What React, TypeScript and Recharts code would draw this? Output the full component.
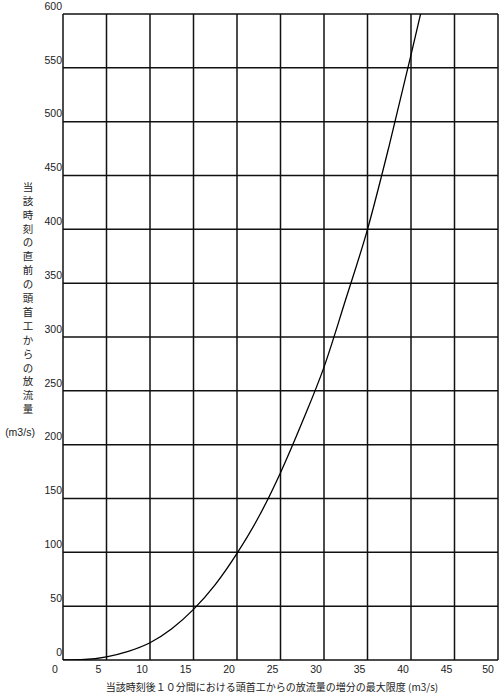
import React from "react"
import { LineChart, Line, XAxis, YAxis, CartesianGrid } from "recharts"

// increment limit (m3/s) vs. discharge just before (m3/s)
const flowIncrease = [0, 2.5, 5, 7.5, 10, 12.5, 15, 17.5, 20, 22.5, 25, 27.5, 30, 32.5, 35, 37.5, 40, 41.1]
const priorFlow = [0, 0.5, 3, 8, 16, 29, 47, 70, 99, 133, 174, 221, 272, 335, 400, 478, 562, 600]

const xTicks = [0, 5, 10, 15, 20, 25, 30, 35, 40, 45, 50]
const yTicks = [0, 50, 100, 150, 200, 250, 300, 350, 400, 450, 500, 550, 600]

const xTitle = "当該時刻後１０分間における頭首工からの放流量の増分の最大限度 (m3/s)"
const yTitleChars = "当該時刻の直前の頭首工からの放流量".split("")
const yTitleUnit = "(m3/s)"

const data = flowIncrease.map((x, i) => ({ x, y: priorFlow[i] }))

const numFont = "'Liberation Sans', Arial, sans-serif"
const jpFont = "'Noto Sans CJK JP', sans-serif"

function YTick(props: any) {
  const { x, y, payload } = props
  return (
    <text x={x - 1} y={y - 7} textAnchor="end" dominantBaseline="middle"
      fontSize={10.5} fontFamily={numFont} fill="#222">
      {payload.value}
    </text>
  )
}

function XTick(props: any) {
  const { x, y, payload } = props
  return (
    <text x={x - 8} y={y + 10} textAnchor="middle" dominantBaseline="middle"
      fontSize={10.5} fontFamily={numFont} fill="#222">
      {payload.value}
    </text>
  )
}

function YTitle() {
  return (
    <g>
      {yTitleChars.map((c, i) => (
        <text key={i} x={28} y={188 + i * 13.9} textAnchor="middle" dominantBaseline="middle"
          fontSize={10.5} fontFamily={jpFont} fill="#222">
          {c}
        </text>
      ))}
      <text x={20} y={433} textAnchor="middle" dominantBaseline="middle"
        fontSize={10.5} fontFamily={numFont} fill="#222">
        {yTitleUnit}
      </text>
    </g>
  )
}

function XTitle() {
  return (
    <text x={272} y={688} textAnchor="middle" dominantBaseline="middle"
      fontSize={10} fontFamily={jpFont} fill="#222">
      {xTitle}
    </text>
  )
}

export default function App() {
  return (
    <div style={{ position: "absolute", left: 0, top: 0, width: 504, height: 698, background: "#fff" }}>
      <LineChart width={504} height={698} data={data} margin={{ top: 14, right: 6, bottom: 0, left: 0 }}>
        <CartesianGrid stroke="#111" strokeWidth={1.5} />
        <XAxis dataKey="x" type="number" domain={[0, 50]} ticks={xTicks} height={38}
          axisLine={false} tickLine={false} tickSize={0} tickMargin={0} tick={<XTick />}
          label={{ content: XTitle }} />
        <YAxis dataKey="y" type="number" domain={[0, 600]} ticks={yTicks} width={63}
          axisLine={false} tickLine={false} tickSize={0} tickMargin={0} tick={<YTick />}
          allowDataOverflow label={{ content: YTitle }} />
        <Line type="monotone" dataKey="y" stroke="#000" strokeWidth={1.3} dot={false}
          isAnimationActive={false} />
      </LineChart>
    </div>
  )
}
